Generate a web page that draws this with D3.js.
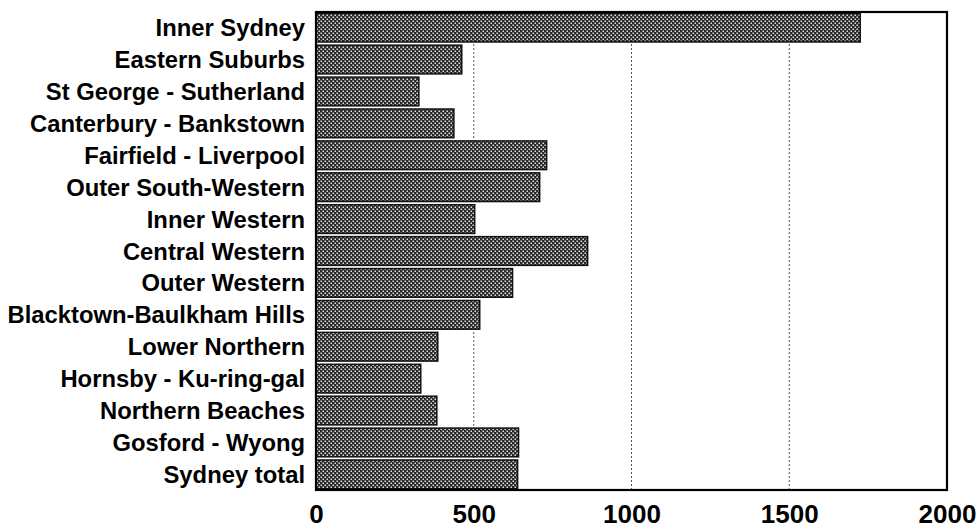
<!DOCTYPE html>
<html>
<head>
<meta charset="utf-8">
<script src="https://cdn.jsdelivr.net/npm/d3@7"></script>
<style>
html,body{margin:0;padding:0;background:#fff;}
svg{display:block;}
</style>
</head>
<body>
<svg id="chart" width="978" height="529"></svg>
<script>
const categories = ["Inner Sydney","Eastern Suburbs","St George - Sutherland","Canterbury - Bankstown","Fairfield - Liverpool","Outer South-Western","Inner Western","Central Western","Outer Western","Blacktown-Baulkham Hills","Lower Northern","Hornsby - Ku-ring-gal","Northern Beaches","Gosford - Wyong","Sydney total"];
const values = [1725, 462, 326, 437, 731, 709, 503, 861, 623, 519, 386, 332, 383, 642, 639];
const xTicks = [0, 500, 1000, 1500, 2000];
const gridValues = [500, 1000, 1500];

(function(){
const svg = d3.select("#chart");
const mLeft = 316, mRight = 947, mTop = 12, mBottom = 490;

const defs = svg.append("defs");
const pat = defs.append("pattern").attr("id","dots").attr("patternUnits","userSpaceOnUse")
  .attr("width",4).attr("height",4);
pat.append("rect").attr("width",4).attr("height",4).attr("fill","#2a2a2a");
pat.append("rect").attr("x",0.5).attr("y",0.5).attr("width",1.5).attr("height",1.5).attr("fill","#e0e0e0");
pat.append("rect").attr("x",2.5).attr("y",2.5).attr("width",1.5).attr("height",1.5).attr("fill","#e0e0e0");

const x = d3.scaleLinear().domain([0,2000]).range([mLeft,mRight]);
const y = d3.scaleBand().domain(categories).range([mTop,mBottom]).paddingInner(0.1).paddingOuter(0.04);

// gridlines
svg.append("g").selectAll("line").data(gridValues).join("line")
  .attr("x1",d=>x(d)).attr("x2",d=>x(d)).attr("y1",mTop).attr("y2",mBottom)
  .attr("stroke","#555").attr("stroke-width",1).attr("stroke-dasharray","2,2");

// bars
svg.append("g").selectAll("rect").data(values).join("rect")
  .attr("x",x(0)).attr("y",(d,i)=>y(categories[i]))
  .attr("width",d=>x(d)-x(0)).attr("height",y.bandwidth())
  .attr("fill","url(#dots)").attr("stroke","#111").attr("stroke-width",1.5);

// frame
svg.append("rect").attr("x",mLeft).attr("y",mTop).attr("width",mRight-mLeft).attr("height",mBottom-mTop)
  .attr("fill","none").attr("stroke","#000").attr("stroke-width",2.2);

// y labels
svg.append("g").selectAll("text").data(categories).join("text")
  .attr("x",mLeft-11).attr("y",d=>y(d)+y.bandwidth()/2)
  .attr("dy","0.36em").attr("text-anchor","end")
  .attr("font-family","Liberation Sans, Arial, sans-serif").attr("font-weight","bold")
  .attr("font-size","23.8px").attr("fill","#000").text(d=>d);

// x axis tick labels
const xAxis = d3.axisBottom(x).tickValues(xTicks).tickSize(0).tickPadding(0).tickFormat(d3.format("d"));
const gx = svg.append("g").attr("transform",`translate(0,${mBottom})`).call(xAxis);
gx.select(".domain").remove();
gx.selectAll("text").attr("y",33).attr("dy",0)
  .attr("font-family","Liberation Sans, Arial, sans-serif").attr("font-weight","bold")
  .attr("font-size","26px").attr("fill","#000");
})();
</script>
</body>
</html>
